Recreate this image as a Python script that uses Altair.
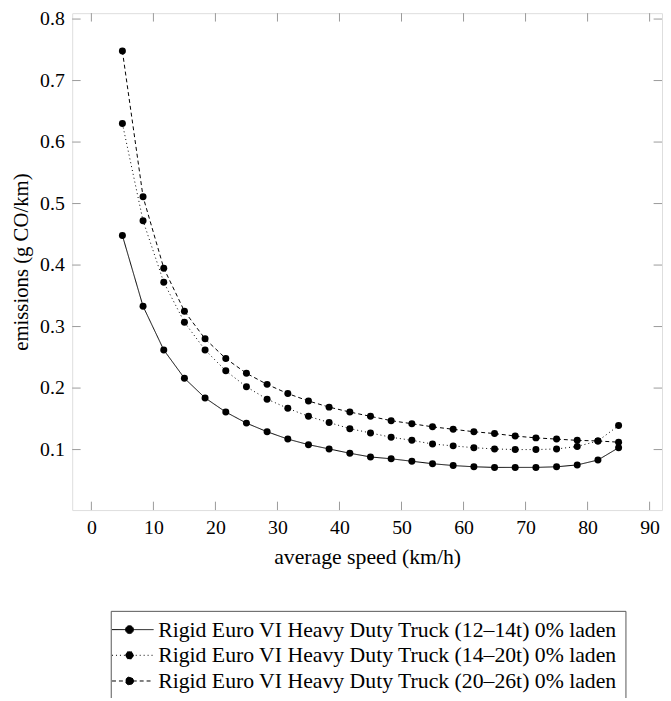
import altair as alt
import pandas as pd

speed = [5, 8.33, 11.67, 15, 18.33, 21.67, 25, 28.33, 31.67, 35, 38.33, 41.67, 45,
         48.33, 51.67, 55, 58.33, 61.67, 65, 68.33, 71.67, 75, 78.33, 81.67, 85]
series_names = [
    "Rigid Euro VI Heavy Duty Truck (12–14t) 0% laden",
    "Rigid Euro VI Heavy Duty Truck (14–20t) 0% laden",
    "Rigid Euro VI Heavy Duty Truck (20–26t) 0% laden",
]
em_12_14 = [0.448, 0.333, 0.262, 0.216, 0.184, 0.161, 0.143, 0.129, 0.117, 0.108, 0.101, 0.094, 0.088,
            0.085, 0.081, 0.077, 0.074, 0.072, 0.071, 0.071, 0.071, 0.072, 0.075, 0.083, 0.103]
em_14_20 = [0.630, 0.472, 0.372, 0.307, 0.262, 0.228, 0.202, 0.182, 0.167, 0.154, 0.144, 0.134, 0.127,
            0.120, 0.115, 0.109, 0.106, 0.103, 0.101, 0.100, 0.100, 0.101, 0.105, 0.114, 0.139]
em_20_26 = [0.748, 0.511, 0.395, 0.325, 0.280, 0.248, 0.224, 0.206, 0.191, 0.179, 0.169, 0.161, 0.154,
            0.147, 0.142, 0.137, 0.133, 0.129, 0.126, 0.122, 0.119, 0.117, 0.115, 0.114, 0.112]
x_ticks = [0, 10, 20, 30, 40, 50, 60, 70, 80, 90]
y_ticks = [0.1, 0.2, 0.3, 0.4, 0.5, 0.6, 0.7, 0.8]

rows = []
for name, vals in zip(series_names, [em_12_14, em_14_20, em_20_26]):
    for s, v in zip(speed, vals):
        rows.append({"speed": s, "emissions": v, "series": name})
df = pd.DataFrame(rows)

W, H = 597, 503
FONT = "'Liberation Serif', 'DejaVu Serif', serif"
FS = 20   # tick labels
TFS = 22  # x title and legend

xs = alt.Scale(domain=[-3.09, 92.0], nice=False, zero=False)
ys = alt.Scale(domain=[0.0016, 0.8096], nice=False, zero=False)

sym_path = "M-1.77,0H2.43M0.4,0A0.4,0.4,0,1,1,-0.4,0A0.4,0.4,0,1,1,0.4,0Z"

lines = alt.Chart(df).mark_line(color="black", strokeWidth=1).encode(
    x=alt.X("speed:Q", scale=xs, title="average speed (km/h)",
            axis=alt.Axis(values=x_ticks, ticks=False, domain=False, grid=False,
                          labelFont=FONT, labelFontSize=FS, labelColor="black", labelPadding=8,
                          titleFont=FONT, titleFontSize=TFS, titleFontWeight="normal",
                          titleColor="black", titlePadding=9)),
    y=alt.Y("emissions:Q", scale=ys, title="emissions (g CO/km)",
            axis=alt.Axis(values=y_ticks, format=".1f", ticks=False, domain=False, grid=False,
                          labelFont=FONT, labelFontSize=FS, labelColor="black", labelPadding=8,
                          titleFont=FONT, titleFontSize=21, titleFontWeight="normal",
                          titleColor="black", titlePadding=8)),
    strokeDash=alt.StrokeDash("series:N",
                              scale=alt.Scale(domain=series_names, range=[[1, 0], [1, 3], [4, 3]]),
                              legend=alt.Legend(orient="none", legendX=39, legendY=605, title=None,
                                                symbolType=sym_path, symbolSize=400,
                                                symbolStrokeColor="black", symbolFillColor="black",
                                                symbolStrokeWidth=1, labelFont=FONT, labelFontSize=TFS,
                                                labelColor="black", labelOffset=18, rowPadding=4,
                                                padding=8, strokeColor="#555", fillColor="white",
                                                labelLimit=0)),
    detail="series:N",
)

points = alt.Chart(df).mark_point(filled=True, color="black", size=50, opacity=1, shape="circle").encode(
    x=alt.X("speed:Q", scale=xs),
    y=alt.Y("emissions:Q", scale=ys),
)

xt = pd.DataFrame({"v": x_ticks})
yt = pd.DataFrame({"v": y_ticks})
TL = 8.5
TC = "#999999"
tick_bottom = alt.Chart(xt).mark_rule(color=TC, strokeWidth=1).encode(
    x=alt.X("v:Q", scale=xs), y=alt.value(H), y2=alt.value(H - TL))
tick_top = alt.Chart(xt).mark_rule(color=TC, strokeWidth=1).encode(
    x=alt.X("v:Q", scale=xs), y=alt.value(0), y2=alt.value(TL))
tick_left = alt.Chart(yt).mark_rule(color=TC, strokeWidth=1).encode(
    y=alt.Y("v:Q", scale=ys), x=alt.value(0), x2=alt.value(TL))
tick_right = alt.Chart(yt).mark_rule(color=TC, strokeWidth=1).encode(
    y=alt.Y("v:Q", scale=ys), x=alt.value(W), x2=alt.value(W - TL))

chart = alt.layer(tick_bottom, tick_top, tick_left, tick_right, lines, points).properties(
    width=W, height=H,
    autosize=alt.AutoSizeParams(type="none"),
    padding={"left": 65, "top": 1, "right": 1, "bottom": 186},
).configure_view(stroke="#555555", strokeWidth=1).configure(background="white")

chart.save("out.html", embed_options={"renderer": "svg", "actions": False})
